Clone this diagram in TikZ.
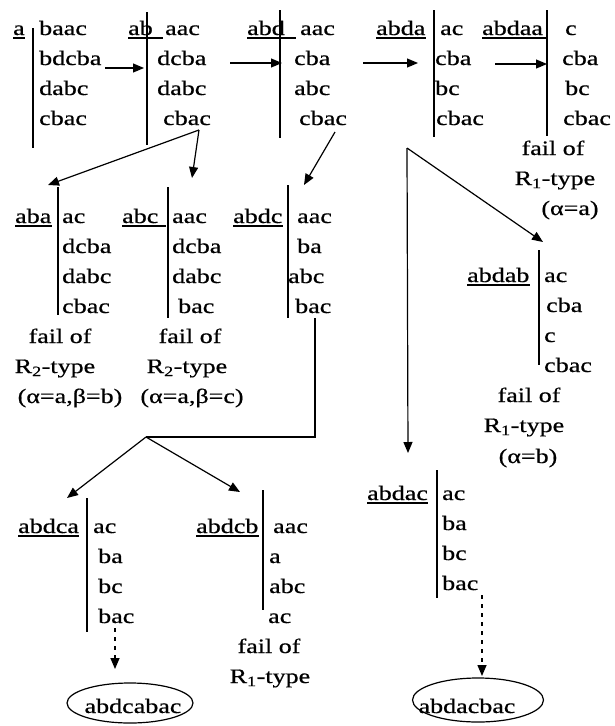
\documentclass[tikz,border=0pt]{standalone}
\usepackage{fontspec}
\setmainfont[FakeStretch=1.27,FakeBold=0.6]{Liberation Serif}
\usetikzlibrary{arrows.meta,shapes.geometric}
\begin{document}
\begin{tikzpicture}[x=1pt,y=-1pt,
  txt/.style={anchor=base west,inner sep=0pt,font=\fontsize{20.5}{24}\selectfont},
  ctr/.style={anchor=base,inner sep=0pt,font=\fontsize{20.5}{24}\selectfont},
  bar/.style={line width=1.5pt},
  ul/.style={line width=1.1pt},
  arr/.style={line width=1.2pt,-{Triangle[length=11pt,width=9pt]}},
  plain/.style={line width=1.2pt},
  dotarr/.style={line width=1.5pt,dash pattern=on 4pt off 5pt,-{Triangle[length=11pt,width=9pt]}},
  oval/.style={ellipse,draw,line width=1.2pt,inner sep=0pt}]
\useasboundingbox (0,0) rectangle (614,726);

% ---- block a
\node[txt] (la) at (13,35) {a};
\draw[ul] ([yshift=-3pt]la.base west) -- ([yshift=-3pt]la.base east);
\draw[bar] (33,28) -- (33,148);
\node[txt] (a1) at (39,35) {baac};
\node[txt] (a2) at (39,65) {bdcba};
\node[txt] (a3) at (39,95) {dabc};
\node[txt] (a4) at (39,125) {cbac};

% ---- block ab
\node[txt] (lb) at (128,35) {ab};
\draw[ul] ([yshift=-3pt]lb.base west) -- ([yshift=-3pt,xshift=10pt]lb.base east);
\draw[bar] (147,12) -- (147,145);
\node[txt] (b1) at (165,35) {aac};
\node[txt] (b2) at (157,65) {dcba};
\node[txt] (b3) at (157,95) {dabc};
\node[txt] (b4) at (163,125) {cbac};

% ---- block abd
\node[txt] (lc) at (247,35) {abd};
\draw[ul] ([yshift=-3pt]lc.base west) -- ([yshift=-3pt,xshift=11pt]lc.base east);
\draw[bar] (280,10) -- (280,138);
\node[txt] (c1) at (300,35) {aac};
\node[txt] (c2) at (294,65) {cba};
\node[txt] (c3) at (294,95) {abc};
\node[txt] (c4) at (299,125) {cbac};

% ---- block abda
\node[txt] (ld) at (376,35) {abda};
\draw[ul] ([yshift=-3pt]ld.base west) -- ([yshift=-3pt]ld.base east);
\draw[bar] (434,10) -- (434,137);
\node[txt] (d1) at (440,35) {ac};
\node[txt] (d2) at (435,65) {cba};
\node[txt] (d3) at (435,95) {bc};
\node[txt] (d4) at (436,125) {cbac};

% ---- block abdaa
\node[txt] (le) at (482,35) {abdaa};
\draw[ul] ([yshift=-3pt]le.base west) -- ([yshift=-3pt,xshift=3pt]le.base east);
\draw[bar] (547,10) -- (547,136);
\node[txt] (e1) at (565,35) {c};
\node[txt] (e2) at (562,65) {cba};
\node[txt] (e3) at (565,95) {bc};
\node[txt] (e4) at (563,125) {cbac};
\node[ctr] (ef1) at (553,155) {fail of};
\node[ctr] (ef2) at (555,185) {R\textsubscript{1}-type};
\node[ctr] (ef3) at (570,215) {(α=a)};

% ---- block aba
\node[txt] (lg) at (15,223) {aba};
\draw[ul] ([yshift=-3pt]lg.base west) -- ([yshift=-3pt]lg.base east);
\draw[bar] (58,187) -- (58,315);
\node[txt] (g1) at (62,223) {ac};
\node[txt] (g2) at (62,253) {dcba};
\node[txt] (g3) at (62,283) {dabc};
\node[txt] (g4) at (62,313) {cbac};
\node[ctr] (gf1) at (60,343) {fail of};
\node[ctr] (gf2) at (55,373) {R\textsubscript{2}-type};
\node[ctr] (gf3) at (70,403) {(α=a,β=b)};

% ---- block abc
\node[txt] (lh) at (122,223) {abc};
\draw[ul] ([yshift=-3pt]lh.base west) -- ([yshift=-3pt,xshift=7pt]lh.base east);
\draw[bar] (168,187) -- (168,318);
\node[txt] (h1) at (172,223) {aac};
\node[txt] (h2) at (172,253) {dcba};
\node[txt] (h3) at (172,283) {dabc};
\node[txt] (h4) at (178,313) {bac};
\node[ctr] (hf1) at (190,343) {fail of};
\node[ctr] (hf2) at (187,373) {R\textsubscript{2}-type};
\node[ctr] (hf3) at (192,403) {(α=a,β=c)};

% ---- block abdc
\node[txt] (li) at (233,223) {abdc};
\draw[ul] ([yshift=-3pt]li.base west) -- ([yshift=-3pt]li.base east);
\draw[bar] (288,185) -- (288,318);
\node[txt] (i1) at (297,223) {aac};
\node[txt] (i2) at (297,253) {ba};
\node[txt] (i3) at (288,283) {abc};
\node[txt] (i4) at (295,313) {bac};

% ---- block abdab
\node[txt] (lj) at (467,282) {abdab};
\draw[ul] ([yshift=-3pt]lj.base west) -- ([yshift=-3pt]lj.base east);
\draw[bar] (539,250) -- (539,365);
\node[txt] (j1) at (544,282) {ac};
\node[txt] (j2) at (546,312) {cba};
\node[txt] (j3) at (544,342) {c};
\node[txt] (j4) at (544,372) {cbac};
\node[ctr] (jf1) at (529,402) {fail of};
\node[ctr] (jf2) at (524,432) {R\textsubscript{1}-type};
\node[ctr] (jf3) at (528,463) {(α=b)};

% ---- block abdac
\node[txt] (lk) at (367,500) {abdac};
\draw[ul] ([yshift=-3pt]lk.base west) -- ([yshift=-3pt]lk.base east);
\draw[bar] (437,470) -- (437,598);
\node[txt] (k1) at (442,500) {ac};
\node[txt] (k2) at (442,530) {ba};
\node[txt] (k3) at (442,560) {bc};
\node[txt] (k4) at (442,590) {bac};
\node[oval,minimum width=131pt,minimum height=44pt] (ko) at (478,700) {};
\node[ctr] (kt) at (467,713) {abdacbac};

% ---- block abdca
\node[txt] (ll) at (18,533) {abdca};
\draw[ul] ([yshift=-3pt]ll.base west) -- ([yshift=-3pt]ll.base east);
\draw[bar] (87,498) -- (87,632);
\node[txt] (l1) at (93,533) {ac};
\node[txt] (l2) at (98,563) {ba};
\node[txt] (l3) at (98,593) {bc};
\node[txt] (l4) at (98,623) {bac};
\node[oval,minimum width=126pt,minimum height=40pt] (lo) at (130,703) {};
\node[ctr] (lt) at (133,713) {abdcabac};

% ---- block abdcb
\node[txt] (lm) at (196,533) {abdcb};
\draw[ul] ([yshift=-3pt]lm.base west) -- ([yshift=-3pt]lm.base east);
\draw[bar] (263,490) -- (263,610);
\node[txt] (m1) at (273,533) {aac};
\node[txt] (m2) at (269,563) {a};
\node[txt] (m3) at (269,593) {abc};
\node[txt] (m4) at (268,623) {ac};
\node[ctr] (mf1) at (269,653) {fail of};
\node[ctr] (mf2) at (270,683) {R\textsubscript{1}-type};

% ---- connector points
\coordinate (s1) at (105,68);  \coordinate (t1) at (144,68);
\coordinate (s2) at (230,63);  \coordinate (t2) at (282,63);
\coordinate (s3) at (363,63);  \coordinate (t3) at (418,63);
\coordinate (s4) at (495,64);  \coordinate (t4) at (547,64);
\coordinate (sb) at (199,130);
\coordinate (tg) at (48,185);  \coordinate (th) at (192,178);
\coordinate (sc) at (335,132); \coordinate (ti) at (304,185);
\coordinate (p) at (407,148);
\coordinate (tj) at (543,242); \coordinate (tk) at (408,453);
\coordinate (si) at (315,318); \coordinate (q) at (315,437);
\coordinate (r) at (146,437);
\coordinate (tl) at (67,498);  \coordinate (tm) at (240,492);
\coordinate (sl) at (115,628); \coordinate (el) at (115,669);
\coordinate (sk) at (482,595); \coordinate (ek) at (482,676);

\draw[arr] (s1) -- (t1);
\draw[arr] (s2) -- (t2);
\draw[arr] (s3) -- (t3);
\draw[arr] (s4) -- (t4);
\draw[arr] (sb) -- (tg);
\draw[arr] (sb) -- (th);
\draw[arr] (sc) -- (ti);
\draw[arr] (p) -- (tj);
\draw[arr] (p) -- (tk);
\draw[plain] (si) -- (q) -- (r);
\draw[arr] (r) -- (tl);
\draw[arr] (r) -- (tm);
\draw[dotarr] (sl) -- (el);
\draw[dotarr] (sk) -- (ek);
\end{tikzpicture}
\end{document}
